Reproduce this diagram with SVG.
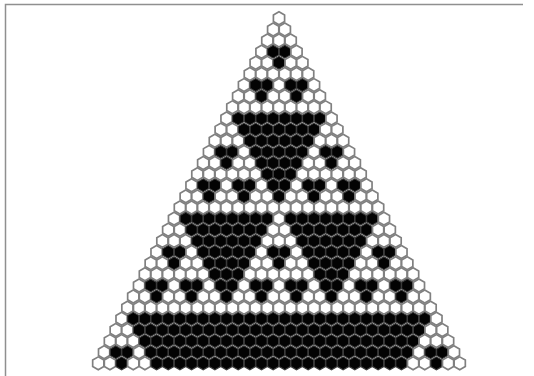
<svg xmlns="http://www.w3.org/2000/svg" xmlns:xlink="http://www.w3.org/1999/xlink" width="534" height="376" viewBox="0 0 534 376">
<style>
.hw{fill:#ffffff;stroke:#808080;stroke-width:1.7;vector-effect:non-scaling-stroke}
.hb{fill:#030303;stroke:#3a3a3a;stroke-width:1.1;vector-effect:non-scaling-stroke}
.frame{fill:none;stroke:#8f8f8f;stroke-width:1.5}
</style>
<defs>
<path id="w" class="hw" d="M0,-0.58L0.48,-0.29L0.48,0.29L0,0.58L-0.48,0.29L-0.48,-0.29Z"/>
<path id="b" class="hb" d="M0,-0.58L0.48,-0.29L0.48,0.29L0,0.58L-0.48,0.29L-0.48,-0.29Z"/>
</defs>
<rect width="534" height="376" fill="#ffffff"/>
<path class="frame" d="M5.5,376V4.5H523"/>
<g id="triangle" transform="translate(279,18.3) scale(11.66,11.13)">
<g id="row0" transform="translate(0,0)"><use href="#w" x="0"/></g>
<g id="row1" transform="translate(-0.5,1)"><use href="#w" x="0"/><use href="#w" x="1"/></g>
<g id="row2" transform="translate(-1,2)"><use href="#w" x="0"/><use href="#w" x="1"/><use href="#w" x="2"/></g>
<g id="row3" transform="translate(-1.5,3)"><use href="#w" x="0"/><use href="#b" x="1"/><use href="#b" x="2"/><use href="#w" x="3"/></g>
<g id="row4" transform="translate(-2,4)"><use href="#w" x="0"/><use href="#w" x="1"/><use href="#b" x="2"/><use href="#w" x="3"/><use href="#w" x="4"/></g>
<g id="row5" transform="translate(-2.5,5)"><use href="#w" x="0"/><use href="#w" x="1"/><use href="#w" x="2"/><use href="#w" x="3"/><use href="#w" x="4"/><use href="#w" x="5"/></g>
<g id="row6" transform="translate(-3,6)"><use href="#w" x="0"/><use href="#b" x="1"/><use href="#b" x="2"/><use href="#w" x="3"/><use href="#b" x="4"/><use href="#b" x="5"/><use href="#w" x="6"/></g>
<g id="row7" transform="translate(-3.5,7)"><use href="#w" x="0"/><use href="#w" x="1"/><use href="#b" x="2"/><use href="#w" x="3"/><use href="#w" x="4"/><use href="#b" x="5"/><use href="#w" x="6"/><use href="#w" x="7"/></g>
<g id="row8" transform="translate(-4,8)"><use href="#w" x="0"/><use href="#w" x="1"/><use href="#w" x="2"/><use href="#w" x="3"/><use href="#w" x="4"/><use href="#w" x="5"/><use href="#w" x="6"/><use href="#w" x="7"/><use href="#w" x="8"/></g>
<g id="row9" transform="translate(-4.5,9)"><use href="#w" x="0"/><use href="#b" x="1"/><use href="#b" x="2"/><use href="#b" x="3"/><use href="#b" x="4"/><use href="#b" x="5"/><use href="#b" x="6"/><use href="#b" x="7"/><use href="#b" x="8"/><use href="#w" x="9"/></g>
<g id="row10" transform="translate(-5,10)"><use href="#w" x="0"/><use href="#w" x="1"/><use href="#b" x="2"/><use href="#b" x="3"/><use href="#b" x="4"/><use href="#b" x="5"/><use href="#b" x="6"/><use href="#b" x="7"/><use href="#b" x="8"/><use href="#w" x="9"/><use href="#w" x="10"/></g>
<g id="row11" transform="translate(-5.5,11)"><use href="#w" x="0"/><use href="#w" x="1"/><use href="#w" x="2"/><use href="#b" x="3"/><use href="#b" x="4"/><use href="#b" x="5"/><use href="#b" x="6"/><use href="#b" x="7"/><use href="#b" x="8"/><use href="#w" x="9"/><use href="#w" x="10"/><use href="#w" x="11"/></g>
<g id="row12" transform="translate(-6,12)"><use href="#w" x="0"/><use href="#b" x="1"/><use href="#b" x="2"/><use href="#w" x="3"/><use href="#b" x="4"/><use href="#b" x="5"/><use href="#b" x="6"/><use href="#b" x="7"/><use href="#b" x="8"/><use href="#w" x="9"/><use href="#b" x="10"/><use href="#b" x="11"/><use href="#w" x="12"/></g>
<g id="row13" transform="translate(-6.5,13)"><use href="#w" x="0"/><use href="#w" x="1"/><use href="#b" x="2"/><use href="#w" x="3"/><use href="#w" x="4"/><use href="#b" x="5"/><use href="#b" x="6"/><use href="#b" x="7"/><use href="#b" x="8"/><use href="#w" x="9"/><use href="#w" x="10"/><use href="#b" x="11"/><use href="#w" x="12"/><use href="#w" x="13"/></g>
<g id="row14" transform="translate(-7,14)"><use href="#w" x="0"/><use href="#w" x="1"/><use href="#w" x="2"/><use href="#w" x="3"/><use href="#w" x="4"/><use href="#w" x="5"/><use href="#b" x="6"/><use href="#b" x="7"/><use href="#b" x="8"/><use href="#w" x="9"/><use href="#w" x="10"/><use href="#w" x="11"/><use href="#w" x="12"/><use href="#w" x="13"/><use href="#w" x="14"/></g>
<g id="row15" transform="translate(-7.5,15)"><use href="#w" x="0"/><use href="#b" x="1"/><use href="#b" x="2"/><use href="#w" x="3"/><use href="#b" x="4"/><use href="#b" x="5"/><use href="#w" x="6"/><use href="#b" x="7"/><use href="#b" x="8"/><use href="#w" x="9"/><use href="#b" x="10"/><use href="#b" x="11"/><use href="#w" x="12"/><use href="#b" x="13"/><use href="#b" x="14"/><use href="#w" x="15"/></g>
<g id="row16" transform="translate(-8,16)"><use href="#w" x="0"/><use href="#w" x="1"/><use href="#b" x="2"/><use href="#w" x="3"/><use href="#w" x="4"/><use href="#b" x="5"/><use href="#w" x="6"/><use href="#w" x="7"/><use href="#b" x="8"/><use href="#w" x="9"/><use href="#w" x="10"/><use href="#b" x="11"/><use href="#w" x="12"/><use href="#w" x="13"/><use href="#b" x="14"/><use href="#w" x="15"/><use href="#w" x="16"/></g>
<g id="row17" transform="translate(-8.5,17)"><use href="#w" x="0"/><use href="#w" x="1"/><use href="#w" x="2"/><use href="#w" x="3"/><use href="#w" x="4"/><use href="#w" x="5"/><use href="#w" x="6"/><use href="#w" x="7"/><use href="#w" x="8"/><use href="#w" x="9"/><use href="#w" x="10"/><use href="#w" x="11"/><use href="#w" x="12"/><use href="#w" x="13"/><use href="#w" x="14"/><use href="#w" x="15"/><use href="#w" x="16"/><use href="#w" x="17"/></g>
<g id="row18" transform="translate(-9,18)"><use href="#w" x="0"/><use href="#b" x="1"/><use href="#b" x="2"/><use href="#b" x="3"/><use href="#b" x="4"/><use href="#b" x="5"/><use href="#b" x="6"/><use href="#b" x="7"/><use href="#b" x="8"/><use href="#w" x="9"/><use href="#b" x="10"/><use href="#b" x="11"/><use href="#b" x="12"/><use href="#b" x="13"/><use href="#b" x="14"/><use href="#b" x="15"/><use href="#b" x="16"/><use href="#b" x="17"/><use href="#w" x="18"/></g>
<g id="row19" transform="translate(-9.5,19)"><use href="#w" x="0"/><use href="#w" x="1"/><use href="#b" x="2"/><use href="#b" x="3"/><use href="#b" x="4"/><use href="#b" x="5"/><use href="#b" x="6"/><use href="#b" x="7"/><use href="#b" x="8"/><use href="#w" x="9"/><use href="#w" x="10"/><use href="#b" x="11"/><use href="#b" x="12"/><use href="#b" x="13"/><use href="#b" x="14"/><use href="#b" x="15"/><use href="#b" x="16"/><use href="#b" x="17"/><use href="#w" x="18"/><use href="#w" x="19"/></g>
<g id="row20" transform="translate(-10,20)"><use href="#w" x="0"/><use href="#w" x="1"/><use href="#w" x="2"/><use href="#b" x="3"/><use href="#b" x="4"/><use href="#b" x="5"/><use href="#b" x="6"/><use href="#b" x="7"/><use href="#b" x="8"/><use href="#w" x="9"/><use href="#w" x="10"/><use href="#w" x="11"/><use href="#b" x="12"/><use href="#b" x="13"/><use href="#b" x="14"/><use href="#b" x="15"/><use href="#b" x="16"/><use href="#b" x="17"/><use href="#w" x="18"/><use href="#w" x="19"/><use href="#w" x="20"/></g>
<g id="row21" transform="translate(-10.5,21)"><use href="#w" x="0"/><use href="#b" x="1"/><use href="#b" x="2"/><use href="#w" x="3"/><use href="#b" x="4"/><use href="#b" x="5"/><use href="#b" x="6"/><use href="#b" x="7"/><use href="#b" x="8"/><use href="#w" x="9"/><use href="#b" x="10"/><use href="#b" x="11"/><use href="#w" x="12"/><use href="#b" x="13"/><use href="#b" x="14"/><use href="#b" x="15"/><use href="#b" x="16"/><use href="#b" x="17"/><use href="#w" x="18"/><use href="#b" x="19"/><use href="#b" x="20"/><use href="#w" x="21"/></g>
<g id="row22" transform="translate(-11,22)"><use href="#w" x="0"/><use href="#w" x="1"/><use href="#b" x="2"/><use href="#w" x="3"/><use href="#w" x="4"/><use href="#b" x="5"/><use href="#b" x="6"/><use href="#b" x="7"/><use href="#b" x="8"/><use href="#w" x="9"/><use href="#w" x="10"/><use href="#b" x="11"/><use href="#w" x="12"/><use href="#w" x="13"/><use href="#b" x="14"/><use href="#b" x="15"/><use href="#b" x="16"/><use href="#b" x="17"/><use href="#w" x="18"/><use href="#w" x="19"/><use href="#b" x="20"/><use href="#w" x="21"/><use href="#w" x="22"/></g>
<g id="row23" transform="translate(-11.5,23)"><use href="#w" x="0"/><use href="#w" x="1"/><use href="#w" x="2"/><use href="#w" x="3"/><use href="#w" x="4"/><use href="#w" x="5"/><use href="#b" x="6"/><use href="#b" x="7"/><use href="#b" x="8"/><use href="#w" x="9"/><use href="#w" x="10"/><use href="#w" x="11"/><use href="#w" x="12"/><use href="#w" x="13"/><use href="#w" x="14"/><use href="#b" x="15"/><use href="#b" x="16"/><use href="#b" x="17"/><use href="#w" x="18"/><use href="#w" x="19"/><use href="#w" x="20"/><use href="#w" x="21"/><use href="#w" x="22"/><use href="#w" x="23"/></g>
<g id="row24" transform="translate(-12,24)"><use href="#w" x="0"/><use href="#b" x="1"/><use href="#b" x="2"/><use href="#w" x="3"/><use href="#b" x="4"/><use href="#b" x="5"/><use href="#w" x="6"/><use href="#b" x="7"/><use href="#b" x="8"/><use href="#w" x="9"/><use href="#b" x="10"/><use href="#b" x="11"/><use href="#w" x="12"/><use href="#b" x="13"/><use href="#b" x="14"/><use href="#w" x="15"/><use href="#b" x="16"/><use href="#b" x="17"/><use href="#w" x="18"/><use href="#b" x="19"/><use href="#b" x="20"/><use href="#w" x="21"/><use href="#b" x="22"/><use href="#b" x="23"/><use href="#w" x="24"/></g>
<g id="row25" transform="translate(-12.5,25)"><use href="#w" x="0"/><use href="#w" x="1"/><use href="#b" x="2"/><use href="#w" x="3"/><use href="#w" x="4"/><use href="#b" x="5"/><use href="#w" x="6"/><use href="#w" x="7"/><use href="#b" x="8"/><use href="#w" x="9"/><use href="#w" x="10"/><use href="#b" x="11"/><use href="#w" x="12"/><use href="#w" x="13"/><use href="#b" x="14"/><use href="#w" x="15"/><use href="#w" x="16"/><use href="#b" x="17"/><use href="#w" x="18"/><use href="#w" x="19"/><use href="#b" x="20"/><use href="#w" x="21"/><use href="#w" x="22"/><use href="#b" x="23"/><use href="#w" x="24"/><use href="#w" x="25"/></g>
<g id="row26" transform="translate(-13,26)"><use href="#w" x="0"/><use href="#w" x="1"/><use href="#w" x="2"/><use href="#w" x="3"/><use href="#w" x="4"/><use href="#w" x="5"/><use href="#w" x="6"/><use href="#w" x="7"/><use href="#w" x="8"/><use href="#w" x="9"/><use href="#w" x="10"/><use href="#w" x="11"/><use href="#w" x="12"/><use href="#w" x="13"/><use href="#w" x="14"/><use href="#w" x="15"/><use href="#w" x="16"/><use href="#w" x="17"/><use href="#w" x="18"/><use href="#w" x="19"/><use href="#w" x="20"/><use href="#w" x="21"/><use href="#w" x="22"/><use href="#w" x="23"/><use href="#w" x="24"/><use href="#w" x="25"/><use href="#w" x="26"/></g>
<g id="row27" transform="translate(-13.5,27)"><use href="#w" x="0"/><use href="#b" x="1"/><use href="#b" x="2"/><use href="#b" x="3"/><use href="#b" x="4"/><use href="#b" x="5"/><use href="#b" x="6"/><use href="#b" x="7"/><use href="#b" x="8"/><use href="#b" x="9"/><use href="#b" x="10"/><use href="#b" x="11"/><use href="#b" x="12"/><use href="#b" x="13"/><use href="#b" x="14"/><use href="#b" x="15"/><use href="#b" x="16"/><use href="#b" x="17"/><use href="#b" x="18"/><use href="#b" x="19"/><use href="#b" x="20"/><use href="#b" x="21"/><use href="#b" x="22"/><use href="#b" x="23"/><use href="#b" x="24"/><use href="#b" x="25"/><use href="#b" x="26"/><use href="#w" x="27"/></g>
<g id="row28" transform="translate(-14,28)"><use href="#w" x="0"/><use href="#w" x="1"/><use href="#b" x="2"/><use href="#b" x="3"/><use href="#b" x="4"/><use href="#b" x="5"/><use href="#b" x="6"/><use href="#b" x="7"/><use href="#b" x="8"/><use href="#b" x="9"/><use href="#b" x="10"/><use href="#b" x="11"/><use href="#b" x="12"/><use href="#b" x="13"/><use href="#b" x="14"/><use href="#b" x="15"/><use href="#b" x="16"/><use href="#b" x="17"/><use href="#b" x="18"/><use href="#b" x="19"/><use href="#b" x="20"/><use href="#b" x="21"/><use href="#b" x="22"/><use href="#b" x="23"/><use href="#b" x="24"/><use href="#b" x="25"/><use href="#b" x="26"/><use href="#w" x="27"/><use href="#w" x="28"/></g>
<g id="row29" transform="translate(-14.5,29)"><use href="#w" x="0"/><use href="#w" x="1"/><use href="#w" x="2"/><use href="#b" x="3"/><use href="#b" x="4"/><use href="#b" x="5"/><use href="#b" x="6"/><use href="#b" x="7"/><use href="#b" x="8"/><use href="#b" x="9"/><use href="#b" x="10"/><use href="#b" x="11"/><use href="#b" x="12"/><use href="#b" x="13"/><use href="#b" x="14"/><use href="#b" x="15"/><use href="#b" x="16"/><use href="#b" x="17"/><use href="#b" x="18"/><use href="#b" x="19"/><use href="#b" x="20"/><use href="#b" x="21"/><use href="#b" x="22"/><use href="#b" x="23"/><use href="#b" x="24"/><use href="#b" x="25"/><use href="#b" x="26"/><use href="#w" x="27"/><use href="#w" x="28"/><use href="#w" x="29"/></g>
<g id="row30" transform="translate(-15,30)"><use href="#w" x="0"/><use href="#b" x="1"/><use href="#b" x="2"/><use href="#w" x="3"/><use href="#b" x="4"/><use href="#b" x="5"/><use href="#b" x="6"/><use href="#b" x="7"/><use href="#b" x="8"/><use href="#b" x="9"/><use href="#b" x="10"/><use href="#b" x="11"/><use href="#b" x="12"/><use href="#b" x="13"/><use href="#b" x="14"/><use href="#b" x="15"/><use href="#b" x="16"/><use href="#b" x="17"/><use href="#b" x="18"/><use href="#b" x="19"/><use href="#b" x="20"/><use href="#b" x="21"/><use href="#b" x="22"/><use href="#b" x="23"/><use href="#b" x="24"/><use href="#b" x="25"/><use href="#b" x="26"/><use href="#w" x="27"/><use href="#b" x="28"/><use href="#b" x="29"/><use href="#w" x="30"/></g>
<g id="row31" transform="translate(-15.5,31)"><use href="#w" x="0"/><use href="#w" x="1"/><use href="#b" x="2"/><use href="#w" x="3"/><use href="#w" x="4"/><use href="#b" x="5"/><use href="#b" x="6"/><use href="#b" x="7"/><use href="#b" x="8"/><use href="#b" x="9"/><use href="#b" x="10"/><use href="#b" x="11"/><use href="#b" x="12"/><use href="#b" x="13"/><use href="#b" x="14"/><use href="#b" x="15"/><use href="#b" x="16"/><use href="#b" x="17"/><use href="#b" x="18"/><use href="#b" x="19"/><use href="#b" x="20"/><use href="#b" x="21"/><use href="#b" x="22"/><use href="#b" x="23"/><use href="#b" x="24"/><use href="#b" x="25"/><use href="#b" x="26"/><use href="#w" x="27"/><use href="#w" x="28"/><use href="#b" x="29"/><use href="#w" x="30"/><use href="#w" x="31"/></g>
</g>
</svg>
